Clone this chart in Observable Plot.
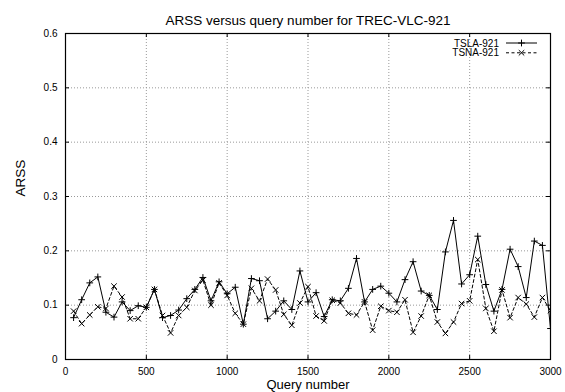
<!DOCTYPE html>
<html>
<head>
<meta charset="utf-8">
<script src="https://cdn.jsdelivr.net/npm/d3@7"></script>
<script src="https://cdn.jsdelivr.net/npm/@observablehq/plot@0.6"></script>
<style>
  html, body { margin: 0; padding: 0; background: #fff; }
  #chart svg { display: block; }
</style>
</head>
<body>
<div id="chart"></div>
<script>
const title = "ARSS versus query number for TREC-VLC-921";
const xLabel = "Query number";
const yLabel = "ARSS";
const seriesNames = ["TSLA-921", "TSNA-921"];

const queries = [50,100,150,200,250,300,350,400,450,500,550,600,650,700,750,800,850,900,950,1000,
  1050,1100,1150,1200,1250,1300,1350,1400,1450,1500,1550,1600,1650,1700,1750,1800,1850,1900,1950,2000,
  2050,2100,2150,2200,2250,2300,2350,2400,2450,2500,2550,2600,2650,2700,2750,2800,2850,2900,2950,3000];

const tsla = [0.077,0.110,0.141,0.152,0.087,0.078,0.106,0.090,0.099,0.096,
  0.129,0.077,0.081,0.091,0.112,0.129,0.151,0.108,0.143,0.121,
  0.133,0.065,0.149,0.145,0.075,0.089,0.108,0.092,0.163,0.106,
  0.123,0.079,0.110,0.108,0.131,0.186,0.106,0.129,0.135,0.122,
  0.106,0.147,0.180,0.126,0.118,0.092,0.198,0.256,0.139,0.156,
  0.227,0.138,0.089,0.129,0.203,0.171,0.114,0.218,0.210,0.057];

const tsna = [0.089,0.066,0.082,0.097,0.094,0.135,0.115,0.075,0.075,0.096,
  0.129,0.081,0.049,0.081,0.096,0.127,0.146,0.100,0.141,0.118,
  0.085,0.065,0.131,0.108,0.148,0.128,0.083,0.063,0.104,0.134,
  0.080,0.071,0.109,0.104,0.085,0.082,0.106,0.054,0.098,0.090,
  0.087,0.110,0.050,0.080,0.118,0.069,0.048,0.069,0.103,0.108,
  0.184,0.094,0.052,0.128,0.077,0.114,0.102,0.078,0.114,0.090];

const xTicks = [0,500,1000,1500,2000,2500,3000];
const xTickLabels = ["0","500","1000","1500","2000","2500","3000"];
const yTicks = [0,0.1,0.2,0.3,0.4,0.5,0.6];
const yTickLabels = ["0","0.1","0.2","0.3","0.4","0.5","0.6"];

const W = 565, H = 392;
const mL = 65, mR = 15, mT = 33, mB = 33;
const innerW = W - mL - mR, innerH = H - mT - mB;
const tickLen = 4;

const dataA = queries.map((q, i) => ({q, v: tsla[i]}));
const dataB = queries.map((q, i) => ({q, v: tsna[i]}));
const xGrid = xTicks.slice(1, -1);
const yGrid = yTicks.slice(1, -1);

const chart = Plot.plot({
  width: W, height: H,
  marginLeft: mL, marginRight: mR, marginTop: mT, marginBottom: mB,
  style: {fontFamily: "'Liberation Sans', Arial, sans-serif", fontSize: "10px", background: "#fff", color: "#000"},
  x: {domain: [0, 3000], ticks: xTicks, tickSize: 0, tickPadding: 8, label: null,
      tickFormat: d => xTickLabels[xTicks.indexOf(d)] ?? String(d)},
  y: {domain: [0, 0.6], ticks: yTicks, tickSize: 0, tickPadding: 8, label: null,
      tickFormat: d => yTickLabels[yTicks.indexOf(d)] ?? String(d)},
  marks: [
    Plot.ruleX(xGrid, {x: d => d, stroke: "#999", strokeDasharray: "1,2", strokeWidth: 1}),
    Plot.ruleY(yGrid, {y: d => d, stroke: "#999", strokeDasharray: "1,2", strokeWidth: 1}),
    Plot.ruleX(xTicks, {x: d => d, insetTop: innerH - tickLen, stroke: "#000"}),
    Plot.ruleX(xTicks, {x: d => d, insetBottom: innerH - tickLen, stroke: "#000"}),
    Plot.ruleY(yTicks, {y: d => d, insetRight: innerW - tickLen, stroke: "#000"}),
    Plot.ruleY(yTicks, {y: d => d, insetLeft: innerW - tickLen, stroke: "#000"}),
    Plot.line(dataB, {x: "q", y: "v", stroke: "#000", strokeWidth: 1, strokeDasharray: "3,2.5"}),
    Plot.dot(dataB, {x: "q", y: "v", symbol: "times", r: 2.6, stroke: "#000", strokeWidth: 1, clip: true}),
    Plot.line(dataA, {x: "q", y: "v", stroke: "#000", strokeWidth: 1}),
    Plot.dot(dataA, {x: "q", y: "v", symbol: "plus", r: 2.3, stroke: "#000", strokeWidth: 1, clip: true}),
    Plot.frame({stroke: "#000", strokeWidth: 1.2}),
    Plot.text([title], {frameAnchor: "top", dy: -18, fontSize: 13.5, fill: "#000"}),
    Plot.text([xLabel], {frameAnchor: "bottom", dy: 29.5, fontSize: 13, fill: "#000"}),
    Plot.text([yLabel], {frameAnchor: "left", dx: -45, rotate: -90, fontSize: 13.5, fill: "#000"})
  ]
});

// Legend inside the top-right corner, gnuplot style
const svg = d3.select(chart);
const lg = svg.append("g").attr("font-family", "'Liberation Sans', Arial, sans-serif").attr("font-size", 10);
const legendRows = [
  {name: seriesNames[0], dash: null, symbol: d3.symbolPlus, size: 17},
  {name: seriesNames[1], dash: "3,2.5", symbol: d3.symbolTimes, size: 21}
];
legendRows.forEach((r, i) => {
  const cy = 43 + i * 9.8;
  lg.append("text").attr("x", 499).attr("y", cy).attr("dy", "0.35em")
    .attr("text-anchor", "end").attr("fill", "#000").text(r.name);
  lg.append("line").attr("x1", 506).attr("x2", 537).attr("y1", cy).attr("y2", cy)
    .attr("stroke", "#000").attr("stroke-width", 1)
    .attr("stroke-dasharray", r.dash);
  lg.append("path").attr("d", d3.symbol(r.symbol, r.size)())
    .attr("transform", `translate(521.5,${cy})`)
    .attr("fill", "none").attr("stroke", "#000").attr("stroke-width", 1);
});

document.getElementById("chart").appendChild(chart);
</script>
</body>
</html>
